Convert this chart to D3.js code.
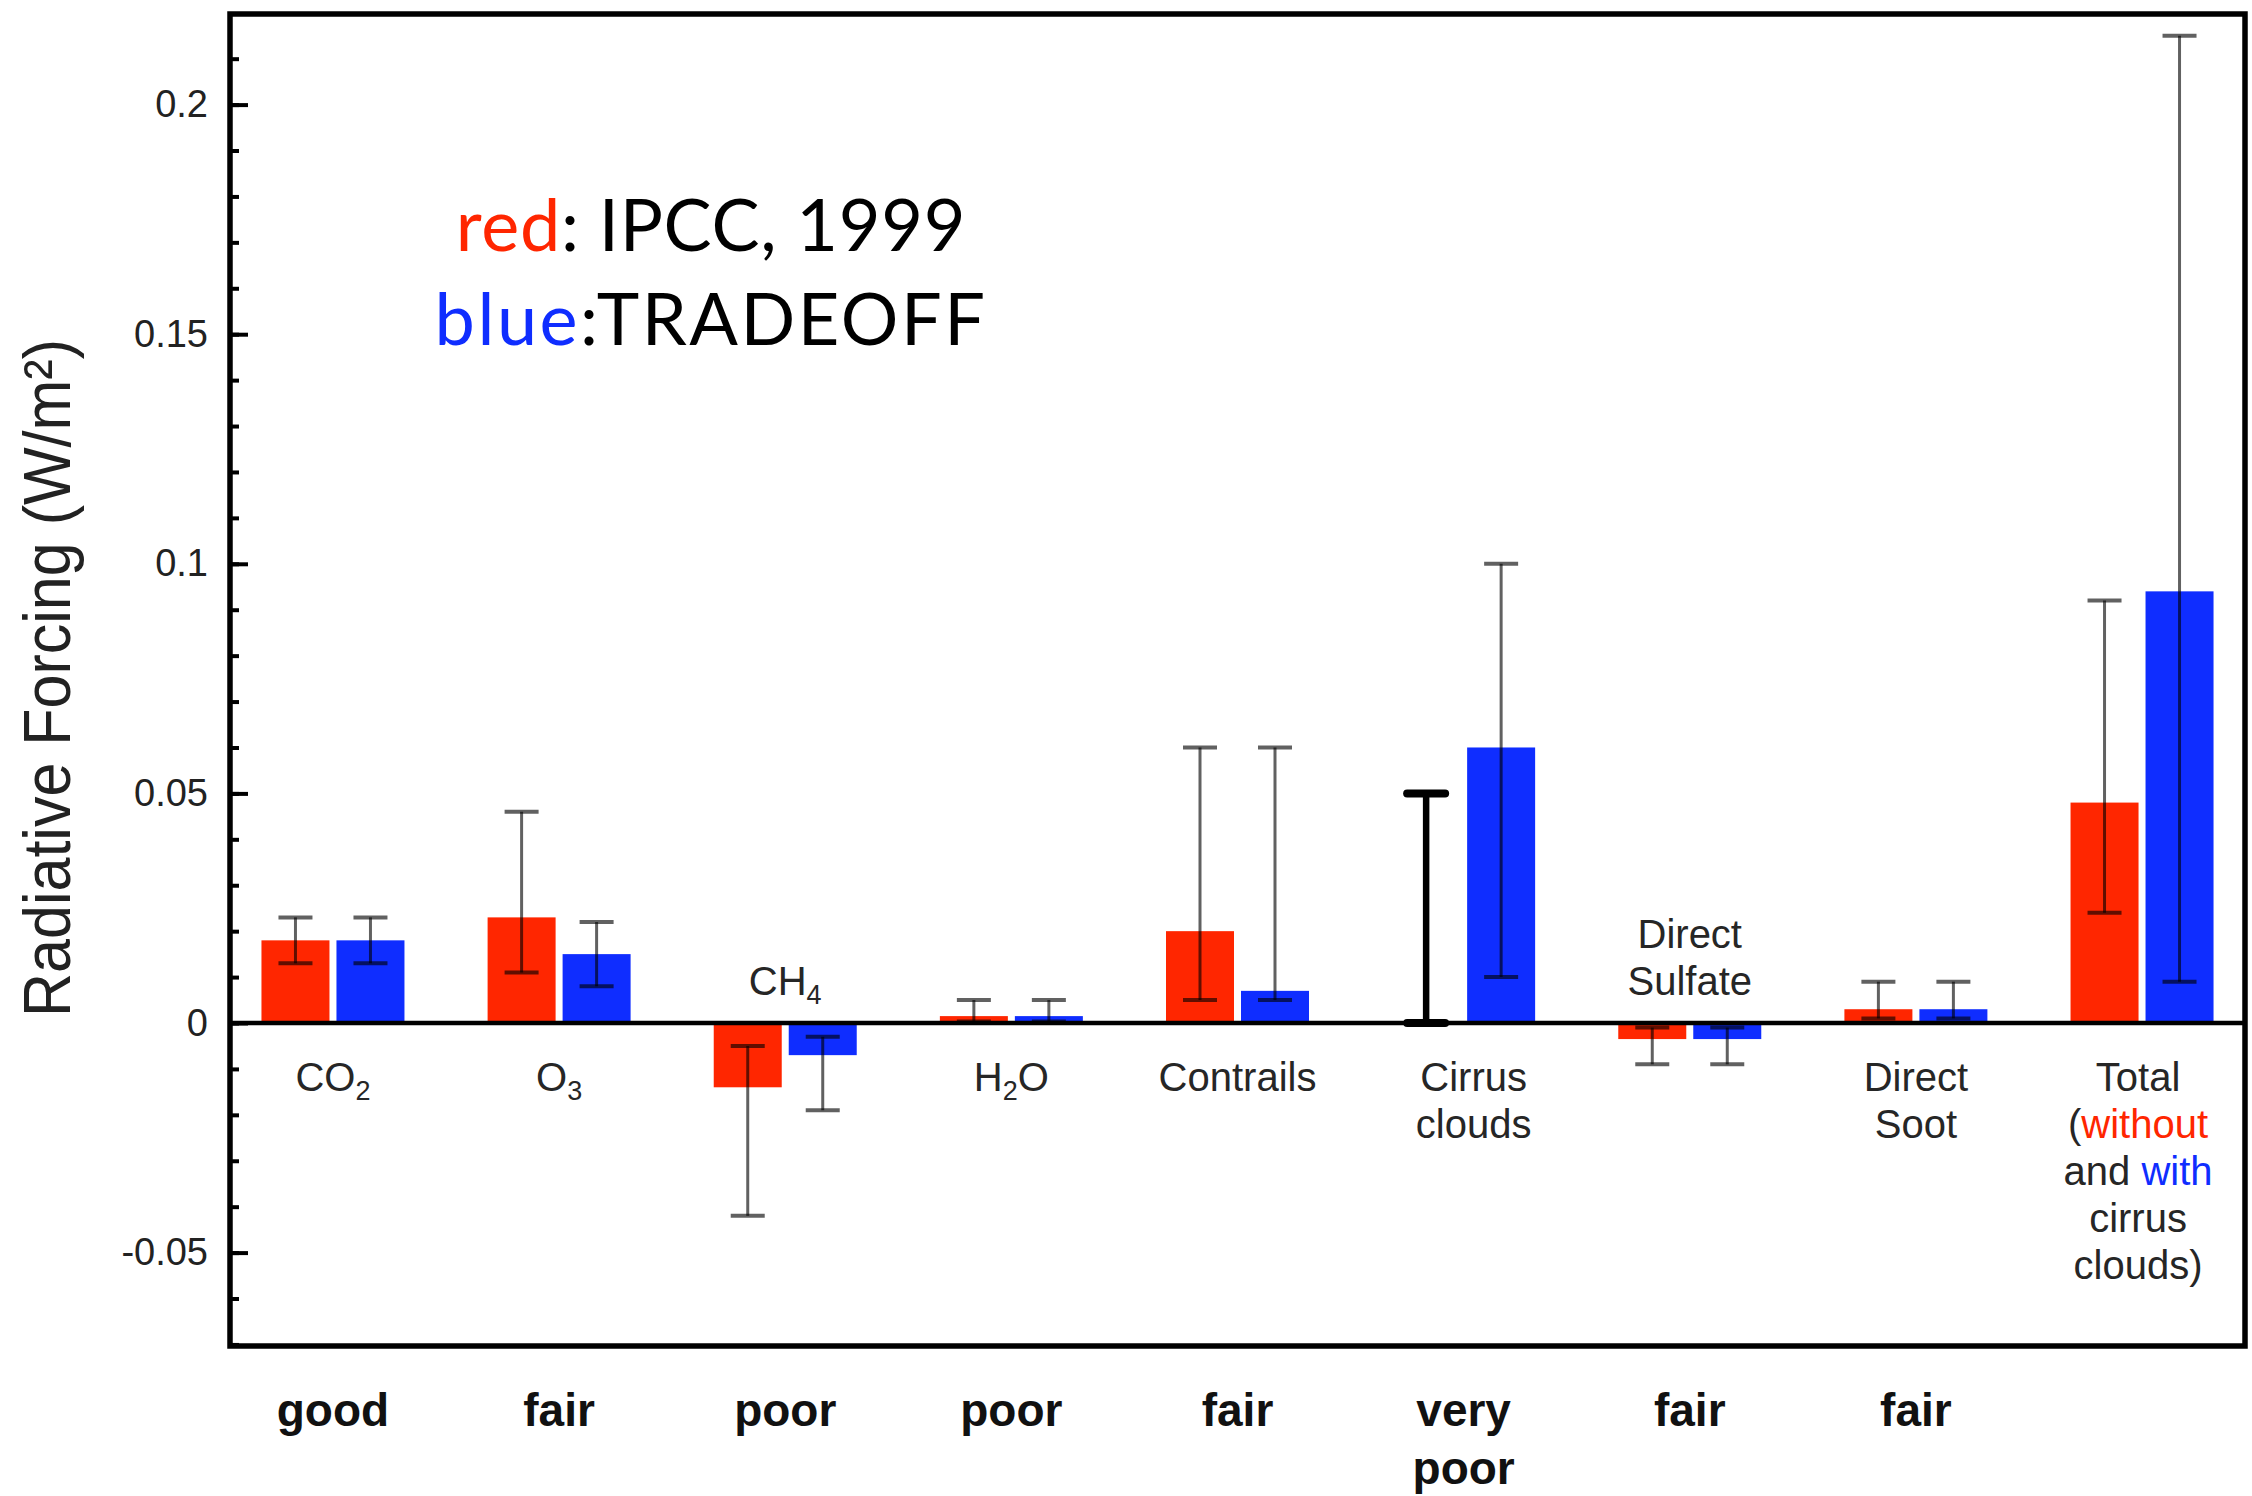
<!DOCTYPE html>
<html><head><meta charset="utf-8">
<script src="https://cdn.jsdelivr.net/npm/d3@7"></script>
<style>html,body{margin:0;padding:0;background:#fff;} svg{display:block;}</style>
</head><body>
<svg id="chart" width="2252" height="1496"></svg>
<script>
// ---------- data ----------
const categories = ["CO2","O3","CH4","H2O","Contrails","Cirrus clouds","Direct Sulfate","Direct Soot","Total"];
const seriesNames = ["IPCC, 1999","TRADEOFF"];
const ipccValues     = [0.018, 0.023, -0.014, 0.0015, 0.020, null,  -0.0035, 0.003, 0.048];
const ipccLow        = [0.013, 0.011, -0.042, 0.0003, 0.005, 0.000, -0.009,  0.001, 0.024];
const ipccHigh       = [0.023, 0.046, -0.005, 0.005,  0.060, 0.050, -0.001,  0.009, 0.092];
const tradeoffValues = [0.018, 0.015, -0.007, 0.0015, 0.007, 0.060, -0.0035, 0.003, 0.094];
const tradeoffLow    = [0.013, 0.008, -0.019, 0.0003, 0.005, 0.010, -0.009,  0.001, 0.009];
const tradeoffHigh   = [0.023, 0.022, -0.003, 0.005,  0.060, 0.100, -0.001,  0.009, 0.215];
const qualityLabels  = [["good"],["fair"],["poor"],["poor"],["fair"],["very","poor"],["fair"],["fair"]];
const yTicks = [-0.05, 0, 0.05, 0.1, 0.15, 0.2];
const yTickLabels = ["-0.05","0","0.05","0.1","0.15","0.2"];
const yMinorTicks = d3.range(-7, 22).map(i => i / 100);
// label lines: each line is a list of [text, style] segments
const categoryLabels = [
  [[["CO",""],["2","sub"]]],
  [[["O",""],["3","sub"]]],
  [[["CH",""],["4","sub"]]],
  [[["H",""],["2","sub"],["O",""]]],
  [[["Contrails",""]]],
  [[["Cirrus",""]],[["clouds",""]]],
  [[["Direct",""]],[["Sulfate",""]]],
  [[["Direct",""]],[["Soot",""]]],
  [[["Total",""]],[["(",""],["without","red"]],[["and ",""],["with","blue"]],[["cirrus",""]],[["clouds)",""]]]
];
const yTitle = "Radiative Forcing (W/m²)";

// ---------- style ----------
const RED = "#ff2600", BLUE = "#0f2dff";
const M = {left: 230, right: 2245, top: 14, bottom: 1346};
const svg = d3.select("#chart");

const y = d3.scaleLinear().domain([-0.07034, 0.21973]).range([M.bottom, M.top]);
const x = d3.scaleBand().domain(categories).range([219.9, 2255.1]).padding(0);
const xs = d3.scaleBand().domain(seriesNames).range([-71.5, 71.5]).paddingInner(0.0933);
const colors = {"IPCC, 1999": RED, "TRADEOFF": BLUE};

const rows = categories.map((c, i) => ({
  cat: c,
  bars: [
    {s: seriesNames[0], v: ipccValues[i], lo: ipccLow[i], hi: ipccHigh[i]},
    {s: seriesNames[1], v: tradeoffValues[i], lo: tradeoffLow[i], hi: tradeoffHigh[i]}
  ]
}));

svg.append("clipPath").attr("id","clip").append("rect")
  .attr("x", M.left).attr("y", M.top).attr("width", M.right - M.left).attr("height", M.bottom - M.top);
const plot = svg.append("g").attr("clip-path","url(#clip)");

// bars
const groups = plot.selectAll("g.cat").data(rows).join("g")
  .attr("transform", d => `translate(${x(d.cat) + x.bandwidth()/2},0)`);
groups.selectAll("rect").data(d => d.bars.filter(b => b.v !== null)).join("rect")
  .attr("x", b => xs(b.s))
  .attr("width", xs.bandwidth())
  .attr("y", b => y(Math.max(0, b.v)))
  .attr("height", b => Math.abs(y(b.v) - y(0)))
  .attr("fill", b => colors[b.s]);

// zero line
plot.append("line").attr("x1", M.left).attr("x2", M.right).attr("y1", y(0)).attr("y2", y(0))
  .attr("stroke", "#000").attr("stroke-width", 4.5);

// error bars
groups.each(function(d) {
  const g = d3.select(this);
  d.bars.forEach(b => {
    const cx = xs(b.s) + xs.bandwidth()/2;
    const special = b.v === null;   // IPCC cirrus range only
    const col = special ? "#000" : "rgba(0,0,0,0.62)";
    const sw = special ? 6.5 : 3;
    const cw = special ? 19 : 17;
    const eg = g.append("g").attr("stroke", col).attr("stroke-linecap", special ? "round" : "butt");
    eg.append("line").attr("x1", cx).attr("x2", cx).attr("y1", y(b.lo)).attr("y2", y(b.hi)).attr("stroke-width", sw);
    eg.append("line").attr("x1", cx - cw).attr("x2", cx + cw).attr("y1", y(b.hi)).attr("y2", y(b.hi)).attr("stroke-width", special ? 8 : 4);
    eg.append("line").attr("x1", cx - cw).attr("x2", cx + cw).attr("y1", y(b.lo)).attr("y2", y(b.lo)).attr("stroke-width", special ? 8 : 4);
  });
});

// frame
svg.append("rect").attr("x", M.left).attr("y", M.top).attr("width", M.right - M.left).attr("height", M.bottom - M.top)
  .attr("fill", "none").attr("stroke", "#000").attr("stroke-width", 5.5);

// y axis (ticks pointing inward)
const minorAxis = d3.axisLeft(y).tickValues(yMinorTicks).tickSize(-9).tickFormat("");
const majorAxis = d3.axisLeft(y).tickValues(yTicks).tickSize(-18).tickPadding(22)
  .tickFormat((d, i) => yTickLabels[i]);
const ga1 = svg.append("g").attr("transform", `translate(${M.left},0)`).call(minorAxis);
const ga2 = svg.append("g").attr("transform", `translate(${M.left},0)`).call(majorAxis);
[ga1, ga2].forEach(g => {
  g.select(".domain").remove();
  g.selectAll(".tick line").attr("stroke", "#000").attr("stroke-width", 4);
});
ga2.selectAll(".tick text").attr("font-family", "'Liberation Sans', Arial, sans-serif")
  .attr("font-size", 38).attr("fill", "#222");

// y title
svg.append("text")
  .attr("transform", `translate(70,${(339 + 1017) / 2}) rotate(-90)`)
  .attr("text-anchor", "middle")
  .attr("font-family", "'Liberation Sans', Arial, sans-serif")
  .attr("font-size", 66).attr("fill", "#222")
  .attr("textLength", 678).attr("lengthAdjust", "spacingAndGlyphs")
  .text(yTitle);

// category labels
const segColor = {"": "#262626", "red": RED, "blue": BLUE, "sub": "#262626"};
rows.forEach((d, i) => {
  const lines = categoryLabels[i];
  const allNeg = d.bars.every(b => b.v === null || b.v < 0);
  const lh = 47;
  const cx = x(d.cat) + x.bandwidth()/2 + (d.cat === "Cirrus clouds" ? 10 : 0) + (d.cat === "Total" ? -4 : 0);
  const firstBase = allNeg ? (y(0) - 28 - (lines.length - 1) * lh) : (y(0) + 68);
  lines.forEach((segs, j) => {
    const t = svg.append("text")
      .attr("x", cx).attr("y", firstBase + j * lh)
      .attr("text-anchor", "middle")
      .attr("font-family", "'Liberation Sans', Arial, sans-serif")
      .attr("font-size", 40);
    segs.forEach((s, k) => {
      const ts = t.append("tspan").text(s[0]).attr("fill", segColor[s[1]]);
      if (s[1] === "sub") ts.attr("font-size", 27).attr("dy", 9);
      else if (k > 0 && segs[k-1][1] === "sub") ts.attr("dy", -9);
    });
  });
});

// quality labels
qualityLabels.forEach((lines, i) => {
  const cx = x(categories[i]) + x.bandwidth()/2;
  lines.forEach((l, j) => {
    svg.append("text").attr("x", cx).attr("y", 1426 + j * 58)
      .attr("text-anchor", "middle")
      .attr("font-family", "'Liberation Sans', Arial, sans-serif")
      .attr("font-weight", "bold").attr("font-size", 46).attr("fill", "#111")
      .text(l);
  });
});

// legend
const legend = [
  {word: "red", color: RED, rest: ": IPCC, 1999", y: 251, ls: 0.7},
  {word: "blue", color: BLUE, rest: ":TRADEOFF", y: 345, ls: 2.5}
];
legend.forEach(l => {
  const t = svg.append("text").attr("x", 711).attr("y", l.y).attr("text-anchor", "middle")
    .attr("font-family", "Lato, 'Open Sans', sans-serif").attr("font-size", 72)
    .attr("letter-spacing", l.ls);
  t.append("tspan").attr("fill", l.color).text(l.word);
  t.append("tspan").attr("fill", "#000").text(l.rest);
});
</script>
</body></html>
